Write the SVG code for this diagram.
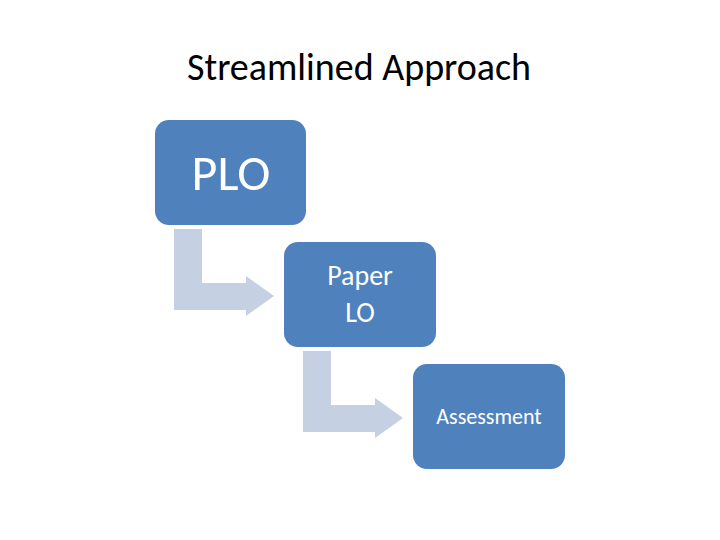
<svg xmlns="http://www.w3.org/2000/svg" width="720" height="540" viewBox="0 0 720 540">
<style>
.box{fill:#4F81BD}
.arr{fill:#C5D0E2}
text{font-family:Carlito,"Liberation Sans",sans-serif;fill:#fff;text-anchor:middle}
</style>
<rect width="720" height="540" fill="#fff"/>
<text x="359" y="80" font-size="38" style="fill:#000">Streamlined Approach</text>
<g id="connectors">
<path class="arr" d="M174,229 H202 V283 H246 V276 L274,296 L246,316 V310 H174 Z"/>
<path class="arr" d="M303,351 H331 V405 H375 V398 L403,418 L375,438 V432 H303 Z"/>
</g>
<g id="plo"><rect class="box" x="155" y="120" width="151" height="105" rx="14"/><text x="231" y="190" font-size="50">PLO</text></g>
<g id="paper"><rect class="box" x="284" y="242" width="152" height="105" rx="14"/><text x="360" y="285" font-size="28">Paper</text><text x="360" y="322" font-size="28">LO</text></g>
<g id="assess"><rect class="box" x="413" y="364" width="152" height="105" rx="14"/><text x="489" y="424" font-size="22">Assessment</text></g>
</svg>
